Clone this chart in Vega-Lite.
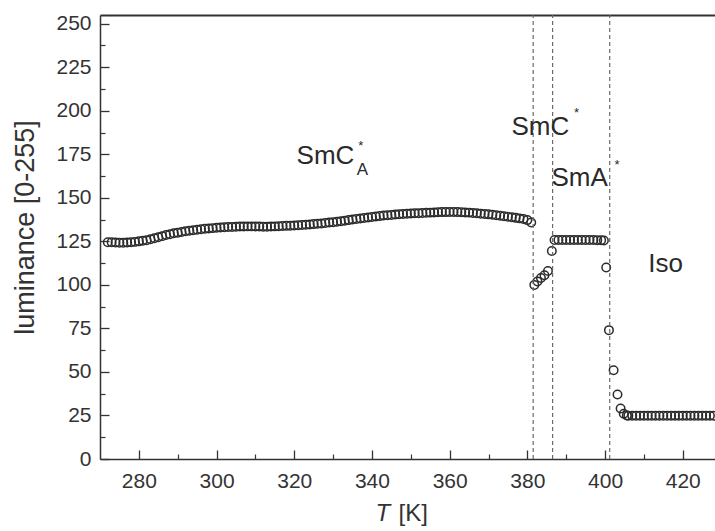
{
  "$schema": "https://vega.github.io/schema/vega-lite/v6.json",
  "width": 615,
  "height": 444,
  "autosize": "none",
  "padding": {"left": 100, "top": 15, "right": 0, "bottom": 72},
  "background": "white",
  "config": {
    "view": {"stroke": null},
    "axis": {"labelFont": "Liberation Sans", "titleFont": "Liberation Sans", "grid": false, "titleFontWeight": "normal"},
    "text": {"font": "Liberation Sans", "color": "#2a2a2a"}
  },
  "datasets": {
    "obs": [
      {"T":272,"L":124.5},{"T":273,"L":124.5},{"T":274,"L":124.3},{"T":275,"L":124.2},{"T":276,"L":124.2},{"T":277,"L":124.3},{"T":278,"L":124.5},{"T":279,"L":124.7},{"T":280,"L":125.0},{"T":281,"L":125.3},{"T":282,"L":125.7},{"T":283,"L":126.2},{"T":284,"L":126.8},
      {"T":285,"L":127.4},{"T":286,"L":128.0},{"T":287,"L":128.6},{"T":288,"L":129.1},{"T":289,"L":129.6},{"T":290,"L":130.0},{"T":291,"L":130.4},{"T":292,"L":130.8},{"T":293,"L":131.1},{"T":294,"L":131.4},{"T":295,"L":131.7},{"T":296,"L":132.0},{"T":297,"L":132.2},{"T":298,"L":132.4},{"T":299,"L":132.6},
      {"T":300,"L":132.8},{"T":301,"L":133.0},{"T":302,"L":133.1},{"T":303,"L":133.2},{"T":304,"L":133.3},{"T":305,"L":133.4},{"T":306,"L":133.5},{"T":307,"L":133.5},{"T":308,"L":133.6},{"T":309,"L":133.6},{"T":310,"L":133.5},{"T":311,"L":133.5},{"T":312,"L":133.4},{"T":313,"L":133.4},{"T":314,"L":133.5},{"T":315,"L":133.6},{"T":316,"L":133.7},{"T":317,"L":133.8},{"T":318,"L":133.9},{"T":319,"L":134.0},
      {"T":320,"L":134.1},{"T":321,"L":134.2},{"T":322,"L":134.4},{"T":323,"L":134.5},{"T":324,"L":134.7},{"T":325,"L":134.9},{"T":326,"L":135.1},{"T":327,"L":135.3},{"T":328,"L":135.5},{"T":329,"L":135.8},{"T":330,"L":136.0},{"T":331,"L":136.3},{"T":332,"L":136.6},{"T":333,"L":136.9},{"T":334,"L":137.2},{"T":335,"L":137.5},{"T":336,"L":137.8},{"T":337,"L":138.1},{"T":338,"L":138.4},{"T":339,"L":138.7},
      {"T":340,"L":139.0},{"T":341,"L":139.3},{"T":342,"L":139.5},{"T":343,"L":139.8},{"T":344,"L":140.0},{"T":345,"L":140.2},{"T":346,"L":140.4},{"T":347,"L":140.6},{"T":348,"L":140.7},{"T":349,"L":140.9},{"T":350,"L":141.0},{"T":351,"L":141.1},{"T":352,"L":141.2},{"T":353,"L":141.3},{"T":354,"L":141.4},{"T":355,"L":141.5},{"T":356,"L":141.6},{"T":357,"L":141.7},{"T":358,"L":141.8},{"T":359,"L":141.8},
      {"T":360,"L":141.9},{"T":361,"L":141.9},{"T":362,"L":141.8},{"T":363,"L":141.7},{"T":364,"L":141.6},{"T":365,"L":141.5},{"T":366,"L":141.3},{"T":367,"L":141.1},{"T":368,"L":140.9},{"T":369,"L":140.7},{"T":370,"L":140.5},{"T":371,"L":140.3},{"T":372,"L":140.0},{"T":373,"L":139.7},{"T":374,"L":139.4},{"T":375,"L":139.1},{"T":376,"L":138.8},{"T":377,"L":138.5},{"T":378,"L":138.2},{"T":379,"L":137.8},{"T":380,"L":137.2},{"T":381,"L":135.8},
      {"T":381.8,"L":100.0},{"T":382.6,"L":102.0},{"T":383.5,"L":104.0},{"T":384.4,"L":105.5},{"T":385.3,"L":108.0},{"T":386.3,"L":119.5},
      {"T":387,"L":125.8},{"T":388,"L":125.8},{"T":389,"L":125.8},{"T":390,"L":125.8},{"T":391,"L":125.8},{"T":392,"L":125.8},{"T":393,"L":125.8},{"T":394,"L":125.8},{"T":395,"L":125.8},{"T":396,"L":125.8},{"T":397,"L":125.8},{"T":398,"L":125.7},{"T":399,"L":125.7},{"T":399.7,"L":125.5},
      {"T":400.3,"L":110.0},{"T":401.0,"L":74.0},{"T":402.2,"L":51.0},{"T":403.2,"L":37.0},{"T":404.0,"L":29.0},{"T":404.8,"L":26.0},{"T":405.6,"L":25.0},
      {"T":406,"L":24.8},{"T":407,"L":24.8},{"T":408,"L":24.8},{"T":409,"L":24.8},{"T":410,"L":24.8},{"T":411,"L":24.8},{"T":412,"L":24.8},{"T":413,"L":24.8},{"T":414,"L":24.8},{"T":415,"L":24.8},{"T":416,"L":24.8},{"T":417,"L":24.8},{"T":418,"L":24.8},{"T":419,"L":24.8},{"T":420,"L":24.8},{"T":421,"L":24.8},{"T":422,"L":24.8},{"T":423,"L":24.8},{"T":424,"L":24.8},{"T":425,"L":24.8},{"T":426,"L":24.8},{"T":427,"L":24.8},{"T":428,"L":24.8}
    ],
    "transitions": [{"T": 381.5}, {"T": 386.5}, {"T": 401.2}],
    "phases": [
      {"T": 320.6, "L": 169.7, "label": "SmC"},
      {"T": 375.9, "L": 186.0, "label": "SmC"},
      {"T": 386.2, "L": 156.7, "label": "SmA"},
      {"T": 411.1, "L": 107.6, "label": "Iso"}
    ],
    "stars": [
      {"T": 336.5, "L": 177.5, "label": "*"},
      {"T": 392.0, "L": 196.5, "label": "*"},
      {"T": 402.4, "L": 166.5, "label": "*"}
    ],
    "subs": [{"T": 336.1, "L": 163.0, "label": "A"}]
  },
  "resolve": {"axis": {"x": "independent", "y": "independent"}},
  "layer": [
    {
      "data": {"name": "obs"},
      "mark": {"type": "point", "shape": "circle", "filled": false, "size": 72, "stroke": "#2b2b2b", "strokeWidth": 1.5, "opacity": 1},
      "encoding": {
        "x": {
          "field": "T", "type": "quantitative",
          "scale": {"domain": [270, 428.3], "nice": false, "zero": false},
          "axis": {
            "orient": "bottom", "values": [280, 300, 320, 340, 360, 380, 400, 420],
            "tickSize": -9, "tickColor": "#333", "tickWidth": 1.3,
            "domainColor": "#333", "domainWidth": 1.5,
            "labelFontSize": 21, "labelColor": "#333", "labelPadding": 20, "labelBaseline": "top",
            "title": "T", "titleFontStyle": "italic", "titleFontSize": 24, "titleColor": "#333",
            "titleX": 275, "titleY": 61, "titleAlign": "left", "titleBaseline": "alphabetic"
          }
        },
        "y": {
          "field": "L", "type": "quantitative",
          "scale": {"domain": [0, 255], "nice": false, "zero": true},
          "axis": {
            "orient": "left", "values": [0, 25, 50, 75, 100, 125, 150, 175, 200, 225, 250],
            "tickSize": -9, "tickColor": "#333", "tickWidth": 1.3,
            "domainColor": "#333", "domainWidth": 1.5,
            "labelFontSize": 21, "labelColor": "#333", "labelPadding": 18,
            "title": "luminance [0-255]", "titleFontSize": 27, "titleColor": "#333",
            "titleAngle": -90, "titleX": -67, "titleY": 212, "titleAlign": "center", "titleBaseline": "alphabetic"
          }
        }
      }
    },
    {
      "data": {"name": "transitions"},
      "mark": {"type": "rule", "stroke": "#6a6a6a", "strokeDash": [4, 3], "strokeWidth": 1.2},
      "encoding": {
        "x": {
          "field": "T", "type": "quantitative",
          "scale": {"domain": [270, 428.3], "nice": false, "zero": false},
          "axis": {
            "orient": "bottom", "values": [290, 310, 330, 350, 370, 390, 410],
            "tickSize": -5, "tickColor": "#333", "tickWidth": 1.2,
            "domain": false, "labels": false,
            "title": "[K]", "titleFontSize": 24, "titleColor": "#333",
            "titleX": 298, "titleY": 61, "titleAlign": "left", "titleBaseline": "alphabetic"
          }
        },
        "y": {
          "datum": 0, "type": "quantitative",
          "scale": {"domain": [0, 255], "nice": false, "zero": true},
          "axis": {
            "orient": "left", "values": [12.5, 37.5, 62.5, 87.5, 112.5, 137.5, 162.5, 187.5, 212.5, 237.5],
            "tickSize": -5, "tickColor": "#333", "tickWidth": 1.2,
            "domain": false, "labels": false, "title": null
          }
        },
        "y2": {"datum": 255}
      }
    },
    {
      "data": {"name": "phases"},
      "mark": {"type": "text", "fontSize": 26, "align": "left", "baseline": "alphabetic"},
      "encoding": {
        "x": {
          "field": "T", "type": "quantitative",
          "axis": {"orient": "top", "domain": true, "domainColor": "#333", "domainWidth": 2, "ticks": false, "labels": false, "title": null}
        },
        "y": {"field": "L", "type": "quantitative", "axis": null},
        "text": {"field": "label"}
      }
    },
    {
      "data": {"name": "stars"},
      "mark": {"type": "text", "fontSize": 13, "align": "left", "baseline": "alphabetic"},
      "encoding": {
        "x": {"field": "T", "type": "quantitative", "axis": null},
        "y": {"field": "L", "type": "quantitative", "axis": null},
        "text": {"field": "label"}
      }
    },
    {
      "data": {"name": "subs"},
      "mark": {"type": "text", "fontSize": 17, "align": "left", "baseline": "alphabetic"},
      "encoding": {
        "x": {"field": "T", "type": "quantitative", "axis": null},
        "y": {"field": "L", "type": "quantitative", "axis": null},
        "text": {"field": "label"}
      }
    }
  ]
}
